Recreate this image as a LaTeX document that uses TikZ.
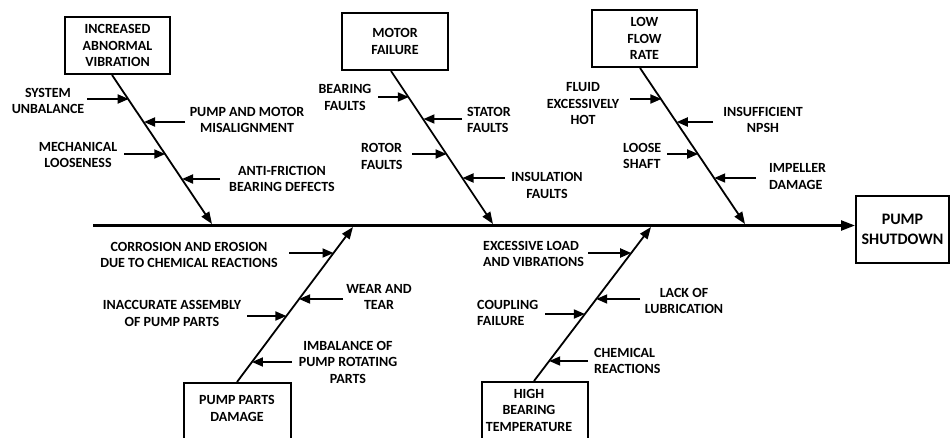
\documentclass[tikz,border=0pt]{standalone}
\usepackage{fontspec}
\setmainfont{Carlito}
\usetikzlibrary{arrows.meta,calc}

% one cause arrow: #1 name, #2 start point, #3 bone name, #4 position along the bone
\newcommand\causearrow[4]{%
  \coordinate (#1s) at #2;
  \path (#3s) -- (#3e) coordinate[pos=#4] (#1e);
  \draw[sub] (#1s) -- (#1s -| #1e);}

\begin{document}
\begin{tikzpicture}[x=1pt,y=-1pt,
  txt/.style={font=\bfseries\fontsize{14}{16.5}\selectfont, align=center, inner sep=0pt},
  txtl/.style={txt, align=left, anchor=west},
  box/.style={draw, line width=2pt, inner sep=0pt},
  bone/.style={line width=1.8pt, -{Triangle[length=12pt,width=9pt]}},
  sub/.style={line width=1.8pt, -{Triangle[length=11pt,width=9pt]}},
  spine/.style={line width=2.4pt, -{Triangle[length=14pt,width=10pt]}}]

\clip (0,0) rectangle (951,437);

% category boxes
\node[box, txt, minimum width=105pt, minimum height=57pt] (b1) at (117.5,45.5) {INCREASED\\ABNORMAL\\VIBRATION};
\node[box, txt, minimum width=106pt, minimum height=57pt] (b2) at (395,41.5) {MOTOR\\FAILURE};
\node[box, txt, minimum width=105pt, minimum height=57pt] (b3) at (644.5,38.5) {LOW\\FLOW\\RATE};
\node[box, minimum width=107pt, minimum height=70pt, anchor=north] (b4) at (237.5,382) {};
\node[txt] (b4t) at (237,408.5) {PUMP PARTS\\DAMAGE};
\node[box, minimum width=106pt, minimum height=70pt, anchor=north] (b5) at (535,381) {};
\node[txt] (b5t) at (529,410) {HIGH\\BEARING\\TEMPERATURE};

% effect box and spine
\node[box, font=\bfseries\fontsize{16}{20}\selectfont, align=center,
      minimum width=93pt, minimum height=67pt] (sd) at (902.5,229.5) {PUMP\\SHUTDOWN};
\coordinate (s0) at (93,225.5);
\draw[spine] (s0) -- (s0 -| sd.west);

% bones
\coordinate (b1s) at ($(b1.south)+(-5.5,0)$); \coordinate (b1e) at (212,224);
\coordinate (b2s) at ($(b2.south)+(-4,0)$);   \coordinate (b2e) at (493,224);
\coordinate (b3s) at ($(b3.south)+(-4.5,0)$); \coordinate (b3e) at (745,224);
\coordinate (b4s) at ($(b4.north)+(-0.5,0)$); \coordinate (b4e) at (353,227);
\coordinate (b5s) at ($(b5.north)+(-1,0)$);   \coordinate (b5e) at (651,227);
\foreach \b in {b1,b2,b3,b4,b5} \draw[bone] (\b s) -- (\b e);

% causes: increased abnormal vibration
\causearrow{c1}{(87,99)}{b1}{.167}
\causearrow{c2}{(185,122)}{b1}{.32}
\causearrow{c3}{(124,154)}{b1}{.533}
\causearrow{c4}{(220,179)}{b1}{.70}
\node[txt] (t1) at (48,101) {SYSTEM\\UNBALANCE};
\node[txt] (t2) at (247,120) {PUMP AND MOTOR\\MISALIGNMENT};
\node[txt] (t3) at (78,155) {MECHANICAL\\LOOSENESS};
\node[txt] (t4) at (282,179) {ANTI-FRICTION\\BEARING DEFECTS};

% causes: motor failure
\causearrow{c5}{(378,97)}{b2}{.175}
\causearrow{c6}{(462,119)}{b2}{.318}
\causearrow{c7}{(412,154)}{b2}{.545}
\causearrow{c8}{(505,178)}{b2}{.701}
\node[txt] (t5) at (345,97.5) {BEARING\\FAULTS};
\node[txtl] (t6) at (467,120) {STATOR\\FAULTS};
\node[txtl] (t7) at (361,156.5) {ROTOR\\FAULTS};
\node[txt] (t8) at (547,185.5) {INSULATION\\FAULTS};

% causes: low flow rate
\causearrow{c9}{(630,99)}{b3}{.204}
\causearrow{c10}{(713,122)}{b3}{.35}
\causearrow{c11}{(667,154)}{b3}{.554}
\causearrow{c12}{(756,178)}{b3}{.707}
\node[txt] (t9) at (583,104) {FLUID\\EXCESSIVELY\\HOT};
\node[txt] (t10) at (763,120) {INSUFFICIENT\\NPSH};
\node[txtl] (t11) at (623,156) {LOOSE\\SHAFT};
\node[txtl] (t12) at (769,176.5) {IMPELLER\\DAMAGE};

% causes: pump parts damage
\causearrow{c13}{(289,253)}{b4}{.832}
\causearrow{c14}{(343,299)}{b4}{.535}
\causearrow{c15}{(247,316)}{b4}{.426}
\causearrow{c16}{(292,362)}{b4}{.129}
\node[txt] (t13) at (189,255) {CORROSION AND EROSION\\DUE TO CHEMICAL REACTIONS};
\node[txt] (t14) at (379,297) {WEAR AND\\TEAR};
\node[txt] (t15) at (172,313.5) {INACCURATE ASSEMBLY\\OF PUMP PARTS};
\node[txt] (t16) at (348,362) {IMBALANCE OF\\PUMP ROTATING\\PARTS};

% causes: high bearing temperature
\causearrow{c17}{(588,253)}{b5}{.831}
\causearrow{c18}{(640,299)}{b5}{.532}
\causearrow{c19}{(545,314)}{b5}{.435}
\causearrow{c20}{(588,361)}{b5}{.13}
\node[txtl] (t17) at (483,254) {EXCESSIVE LOAD\\AND VIBRATIONS};
\node[txt] (t18) at (684,301) {LACK OF\\LUBRICATION};
\node[txtl] (t19) at (477,313) {COUPLING\\FAILURE};
\node[txtl] (t20) at (594,361) {CHEMICAL\\REACTIONS};
\end{tikzpicture}
\end{document}
